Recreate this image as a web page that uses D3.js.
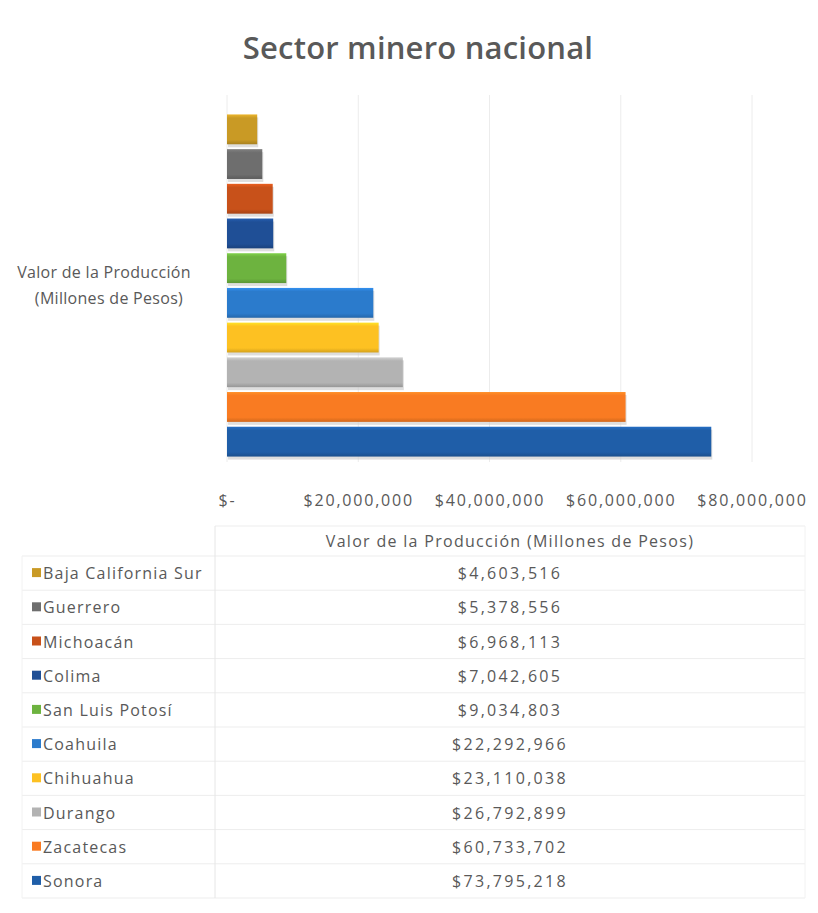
<!DOCTYPE html>
<html>
<head>
<meta charset="utf-8">
<script src="https://cdn.jsdelivr.net/npm/d3@7"></script>
<style>
  body { margin: 0; background: #fff; }
  svg { display: block; font-family: "Open Sans", sans-serif; }
</style>
</head>
<body>
<div class="chart"></div>
<script>
// estados, de arriba hacia abajo como en la grafica
const estados = ['Baja California Sur', 'Guerrero', 'Michoacán', 'Colima', 'San Luis Potosí',
  'Coahuila', 'Chihuahua', 'Durango', 'Zacatecas', 'Sonora'];
const valores = [4603516, 5378556, 6968113, 7042605, 9034803,
  22292966, 23110038, 26792899, 60733702, 73795218];
const colores = ['#c99a25', '#6e6e6e', '#c8511a', '#1f4f96', '#6db33f',
  '#2b7bcc', '#fdc122', '#b3b3b3', '#f97b22', '#1f5ea8'];
const xTicks = [0, 20000000, 40000000, 60000000, 80000000];
const serie = 'Valor de la Producción (Millones de Pesos)';

const width = 818, height = 913;
const gris = '#595959';

const svg = d3.select('.chart').append('svg')
  .attr('width', width)
  .attr('height', height);

const defs = svg.append('defs');

// gradiente para cada barra (efecto relieve)
colores.forEach((c, i) => {
  const g = defs.append('linearGradient')
    .attr('id', 'grad' + i)
    .attr('x1', 0).attr('y1', 0).attr('x2', 0).attr('y2', 1);
  g.append('stop').attr('offset', '0%').attr('stop-color', d3.color(c).brighter(0.45));
  g.append('stop').attr('offset', '12%').attr('stop-color', c);
  g.append('stop').attr('offset', '85%').attr('stop-color', c);
  g.append('stop').attr('offset', '100%').attr('stop-color', d3.color(c).darker(0.5));
});

const x = d3.scaleLinear()
  .domain([0, 80000000])
  .range([227, 752]);

const y = d3.scaleBand()
  .domain(estados)
  .range([112, 459])
  .paddingInner(0.14)
  .paddingOuter(0.07);

// titulo
svg.append('text')
  .attr('x', 418)
  .attr('y', 59)
  .attr('text-anchor', 'middle')
  .attr('font-size', 31)
  .attr('font-weight', 600)
  .attr('letter-spacing', 0.2)
  .attr('fill', gris)
  .text('Sector minero nacional');

// lineas de cuadricula
svg.append('g')
  .selectAll('line')
  .data(xTicks)
  .join('line')
  .attr('x1', d => x(d)).attr('x2', d => x(d))
  .attr('y1', 95).attr('y2', 462)
  .attr('stroke', '#ececec')
  .attr('stroke-width', 1);

// sombras
svg.append('g')
  .selectAll('rect')
  .data(valores)
  .join('rect')
  .attr('x', x(0) + 1)
  .attr('y', (d, i) => y(estados[i]) + 3)
  .attr('width', d => x(d) - x(0))
  .attr('height', y.bandwidth())
  .attr('fill', '#c8c8c8')
  .attr('opacity', 0.6);

// barras
svg.append('g')
  .selectAll('rect')
  .data(valores)
  .join('rect')
  .attr('x', x(0))
  .attr('y', (d, i) => y(estados[i]))
  .attr('width', d => x(d) - x(0))
  .attr('height', y.bandwidth())
  .attr('fill', (d, i) => 'url(#grad' + i + ')');

// eje x
const xAxis = d3.axisBottom(x)
  .tickValues(xTicks)
  .tickSize(0)
  .tickPadding(0)
  .tickFormat(d => d === 0 ? '$-' : '$' + d3.format(',')(d));

svg.append('g')
  .attr('transform', 'translate(0,506)')
  .call(xAxis)
  .call(g => g.select('.domain').remove())
  .call(g => g.selectAll('text')
    .attr('dy', 0)
    .attr('font-family', '"Open Sans", sans-serif')
    .attr('font-size', 16)
    .attr('letter-spacing', 1.8)
    .attr('fill', gris));

// titulo eje y
const yTitle = svg.append('text')
  .attr('text-anchor', 'middle')
  .attr('font-size', 16)
  .attr('letter-spacing', 0.3)
  .attr('fill', gris);
yTitle.append('tspan').attr('x', 104).attr('y', 278).text('Valor de la Producción');
yTitle.append('tspan').attr('x', 109).attr('y', 304).text('(Millones de Pesos)');

// tabla de datos
const filaY0 = 556, paso = 34.2;
const tabla = svg.append('g');

// lineas de la tabla
tabla.append('line')
  .attr('x1', 215).attr('x2', 805)
  .attr('y1', 526).attr('y2', 526)
  .attr('stroke', '#ededed');
tabla.selectAll('line.fila')
  .data(d3.range(estados.length + 1))
  .join('line')
  .attr('class', 'fila')
  .attr('x1', 22).attr('x2', 805)
  .attr('y1', i => filaY0 + i * paso)
  .attr('y2', i => filaY0 + i * paso)
  .attr('stroke', '#ededed');
tabla.append('line')
  .attr('x1', 215).attr('x2', 215)
  .attr('y1', 526).attr('y2', filaY0 + estados.length * paso)
  .attr('stroke', '#e6e6e6');
tabla.append('line')
  .attr('x1', 22).attr('x2', 22)
  .attr('y1', filaY0).attr('y2', filaY0 + estados.length * paso)
  .attr('stroke', '#f2f2f2');
tabla.append('line')
  .attr('x1', 805).attr('x2', 805)
  .attr('y1', 526).attr('y2', filaY0 + estados.length * paso)
  .attr('stroke', '#f2f2f2');

tabla.append('text')
  .attr('x', 510)
  .attr('y', 547)
  .attr('text-anchor', 'middle')
  .attr('font-size', 16)
  .attr('letter-spacing', 1.3)
  .attr('fill', gris)
  .text(serie);

const filas = tabla.selectAll('g.row')
  .data(estados)
  .join('g')
  .attr('class', 'row')
  .attr('transform', (d, i) => 'translate(0,' + (filaY0 + i * paso + paso / 2) + ')');

filas.append('rect')
  .attr('x', 32).attr('y', -5)
  .attr('width', 9).attr('height', 9)
  .attr('fill', (d, i) => colores[i]);

filas.append('text')
  .attr('x', 43)
  .attr('y', 6)
  .attr('font-size', 16)
  .attr('letter-spacing', 1.2)
  .attr('fill', gris)
  .text(d => d);

filas.append('text')
  .attr('x', 510)
  .attr('y', 6)
  .attr('text-anchor', 'middle')
  .attr('font-size', 16)
  .attr('letter-spacing', 2.3)
  .attr('fill', gris)
  .text((d, i) => '$' + d3.format(',')(valores[i]));
</script>
</body>
</html>
